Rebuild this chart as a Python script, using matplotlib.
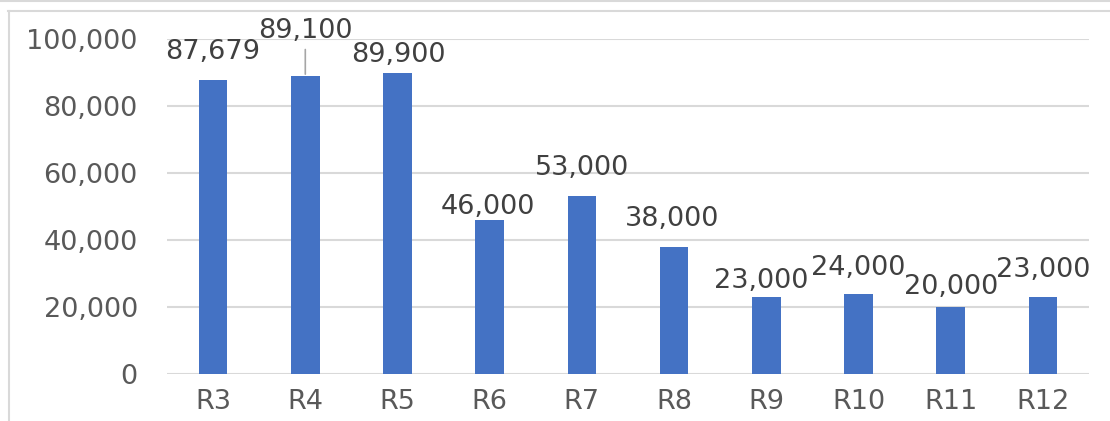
import matplotlib
matplotlib.use("Agg")
import matplotlib.pyplot as plt
from matplotlib.lines import Line2D
from matplotlib.ticker import FuncFormatter

# ---------------------------------------------------------------- data
categories = ["R3", "R4", "R5", "R6", "R7", "R8", "R9", "R10", "R11", "R12"]
values = [87679, 89100, 89900, 46000, 53000, 38000, 23000, 24000, 20000, 23000]

# label offsets (pixels) from bar top centre: (dx, dy) for text centre
label_offsets = [(0, 28), (0, 45), (1, 18), (-2, 13), (0, 28),
                 (-2, 28), (-5, 16), (0, 26), (0, 20), (0, 27)]

W, H, DPI = 1110, 421, 100
BAR_COLOR = "#4472C4"
GRID = "#D9D9D9"
TEXT = "#595959"
LABEL = "#404040"
FS = 19.5

fig = plt.figure(figsize=(W / DPI, H / DPI), dpi=DPI)
ax = fig.add_axes([167 / W, 1 - 374 / H, (1089 - 167) / W, (374 - 39) / H])

x = list(range(len(categories)))
ax.bar(x, values, width=0.31, color=BAR_COLOR, zorder=3)

ax.set_xlim(-0.5, len(categories) - 0.5)
ax.set_ylim(0, 100000)
ax.set_yticks(range(0, 100001, 20000))
ax.yaxis.set_major_formatter(FuncFormatter(lambda v, _: f"{int(v):,}"))
ax.set_xticks(x)
ax.set_xticklabels(categories)
ax.grid(axis="y", color=GRID, linewidth=1.5, zorder=0)
ax.tick_params(axis="both", length=0, labelsize=FS, labelcolor=TEXT)
ax.tick_params(axis="x", pad=11)
ax.tick_params(axis="y", pad=21)
for s in ax.spines.values():
    s.set_visible(False)

px = 72 / DPI
for i, (v, (dx, dy)) in enumerate(zip(values, label_offsets)):
    ax.annotate(f"{v:,}", (i, v), xytext=(dx * px, dy * px),
                textcoords="offset points", ha="center", va="center",
                fontsize=FS, color=LABEL, zorder=4)

# leader line for the lifted R4 label
ax.annotate("", (1, values[1]), xytext=(0, 26 * px), textcoords="offset points",
            arrowprops=dict(arrowstyle="-", color="#A6A6A6", lw=1.2,
                            shrinkA=0, shrinkB=1))

# chart area borders
for xs, ys in [((0, W), (H - 0.5, H - 0.5)),
               ((8, W), (H - 10.5, H - 10.5)),
               ((8.5, 8.5), (0, H - 10.5))]:
    fig.add_artist(Line2D([a / W for a in xs], [b / H for b in ys],
                          transform=fig.transFigure, color=GRID, lw=1.5))

fig.savefig("out.png", dpi=DPI)
